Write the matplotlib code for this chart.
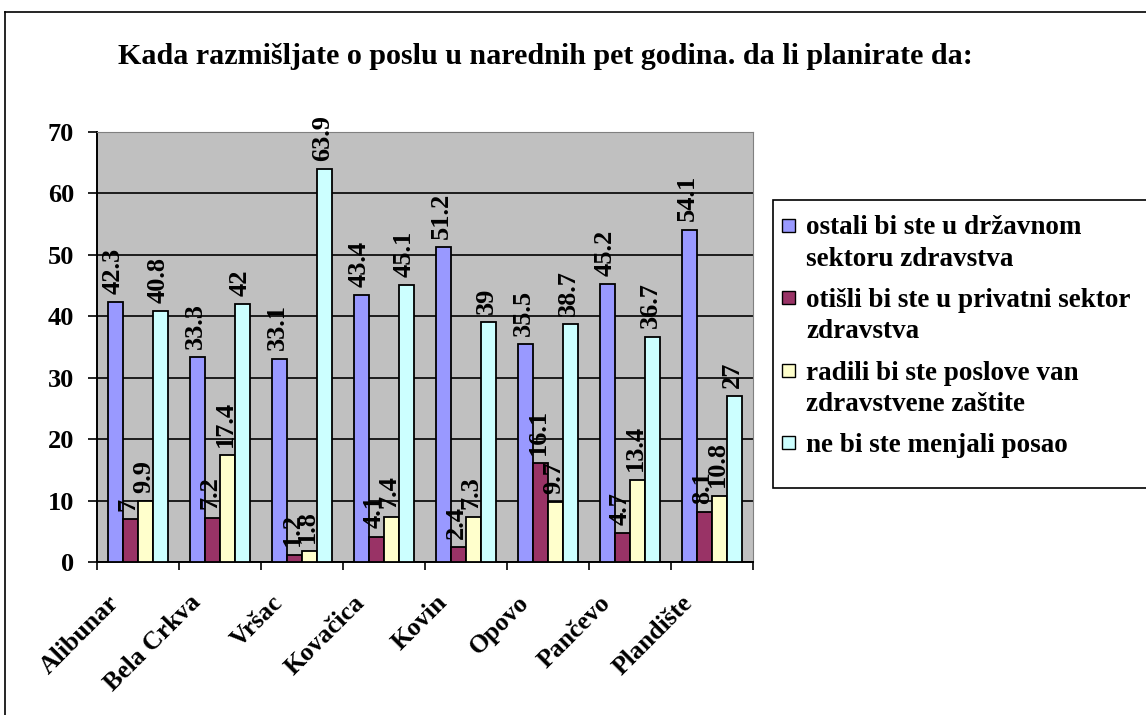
import matplotlib
matplotlib.use("Agg")
import matplotlib.pyplot as plt
from matplotlib.patches import Rectangle
from matplotlib.lines import Line2D
from matplotlib.transforms import ScaledTranslation
import numpy as np

plt.rcParams['font.family'] = ['Liberation Serif', 'DejaVu Serif']
plt.rcParams['font.weight'] = 'bold'

title = "Kada razmišljate o poslu u narednih pet godina. da li planirate da:"
towns = ["Alibunar", "Bela Crkva", "Vršac", "Kovačica", "Kovin", "Opovo", "Pančevo", "Plandište"]
series_names = [
    "ostali bi ste u državnom\nsektoru zdravstva",
    "otišli bi ste u privatni sektor\nzdravstva",
    "radili bi ste poslove van\nzdravstvene zaštite",
    "ne bi ste menjali posao",
]
drzavni = [42.3, 33.3, 33.1, 43.4, 51.2, 35.5, 45.2, 54.1]
privatni = [7, 7.2, 1.2, 4.1, 2.4, 16.1, 4.7, 8.1]
van_zdravstva = [9.9, 17.4, 1.8, 7.4, 7.3, 9.7, 13.4, 10.8]
ne_menjaju = [40.8, 42, 63.9, 45.1, 39, 38.7, 36.7, 27]
series = [drzavni, privatni, van_zdravstva, ne_menjaju]
colors = ["#9999FF", "#993366", "#FFFFCC", "#CCFFFF"]

W, H = 1146, 715
fig = plt.figure(figsize=(W / 100, H / 100), dpi=100)

def fx(px):
    return px / W

def fy(py):
    return 1 - py / H

# outer chart frame
fig.add_artist(Line2D([fx(5), fx(5)], [fy(12), 0], color="black", lw=1.2, transform=fig.transFigure))
fig.add_artist(Line2D([fx(5), 1], [fy(12), fy(12)], color="black", lw=1.2, transform=fig.transFigure))

left, right, top, bottom = 97, 753, 132, 562
ax = fig.add_axes([fx(left), fy(bottom), fx(right - left), fy(top) - fy(bottom)])
ax.set_facecolor("#C0C0C0")

n = len(towns)
x = np.arange(n)
bw = 1 / 5.5
offsets = (np.arange(4) - 1.5) * bw
for vals, col, off in zip(series, colors, offsets):
    bars = ax.bar(x + off, vals, width=bw, color=col, edgecolor="black", linewidth=1.3, zorder=3)
    for b, v in zip(bars, vals):
        ax.annotate(f"{v:g}", (b.get_x() + b.get_width() / 2, v), xytext=(-1.5, 6),
                    textcoords="offset points", rotation=90, ha="center", va="bottom",
                    fontsize=19, fontweight="bold", zorder=4)

ax.set_xlim(-0.5, n - 0.5)
ax.set_ylim(0, 70)
ax.set_yticks(range(0, 71, 10))
ax.yaxis.grid(True, color="black", linewidth=1.2, zorder=1)
ax.set_axisbelow(True)
for lbl in ax.get_yticklabels():
    lbl.set_fontsize(19)
    lbl.set_fontweight("bold")
ax.tick_params(axis="y", length=6.5, width=1.2, direction="out", pad=10)

ax.set_xticks(x)
ax.set_xticklabels(towns, rotation=45, ha="right", va="top", rotation_mode="anchor",
                   fontsize=18.5, fontweight="bold")
ax.tick_params(axis="x", which="major", length=0, pad=0)
shift = ScaledTranslation(-0.31, -0.29, fig.dpi_scale_trans)
for lbl in ax.get_xticklabels():
    lbl.set_transform(lbl.get_transform() + shift)
ax.set_xticks(np.arange(n + 1) - 0.5, minor=True)
ax.tick_params(axis="x", which="minor", length=6, width=1.2, direction="out")

for side in ["top", "right"]:
    ax.spines[side].set_color("#808080")
for side in ["left", "bottom"]:
    ax.spines[side].set_color("black")
    ax.spines[side].set_linewidth(1.4)

fig.text(fx(545), fy(57), title, ha="center", va="center", fontsize=21.6, fontweight="bold")

# legend box with square keys aligned to the first line of each entry
fig.add_artist(Rectangle((fx(773), fy(488)), 1.0, fy(200) - fy(488), transform=fig.transFigure,
                         facecolor="white", edgecolor="black", lw=1.2))
line_step, entry_gap = 31.5, 9.5
y_line = 225.0
key = 13
for name, col in zip(series_names, colors):
    fig.add_artist(Rectangle((fx(782), fy(y_line + key / 2)), fx(key), fy(0) - fy(key),
                             transform=fig.transFigure, facecolor=col, edgecolor="black", lw=1.0))
    for line in name.split("\n"):
        fig.text(fx(806), fy(y_line), line, ha="left", va="center_baseline",
                 fontsize=19.5, fontweight="bold")
        y_line += line_step
    y_line += entry_gap

fig.savefig("out.png", dpi=100)
